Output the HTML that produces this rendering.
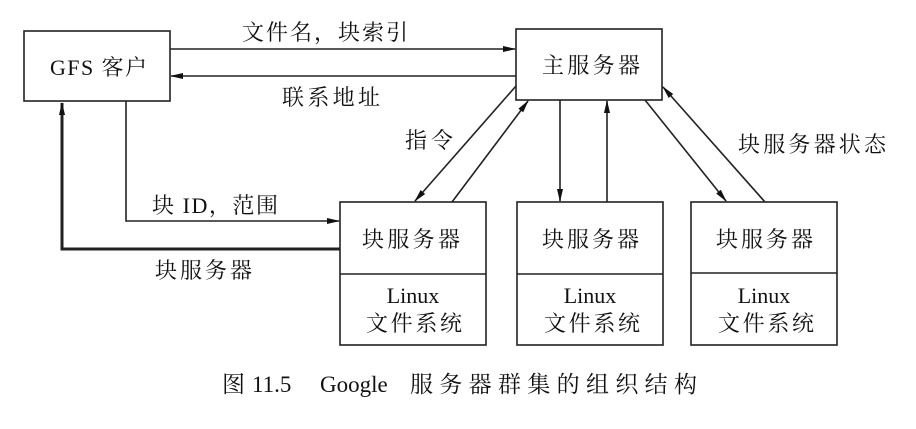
<!DOCTYPE html>
<html><head><meta charset="utf-8"><style>
body{margin:0;background:#fff}
svg text{font-family:"Liberation Serif","Noto Serif CJK SC",serif;fill:#111}
</style></head><body>
<svg width="916" height="424" viewBox="0 0 916 424" xmlns="http://www.w3.org/2000/svg">
<defs><marker id="a" markerWidth="13" markerHeight="8" refX="12" refY="4" orient="auto" markerUnits="userSpaceOnUse"><path d="M0,1 L13,4 L0,7 Z" fill="#111"/></marker></defs>
<g fill="none" stroke="#222" stroke-width="1.6">
<rect x="24" y="31" width="146" height="70"/>
<rect x="516" y="29" width="146" height="71"/>
<rect x="340" y="202" width="146" height="143"/><line x1="340" y1="274" x2="486" y2="274"/>
<rect x="517" y="202" width="146" height="143"/><line x1="517" y1="274" x2="663" y2="274"/>
<rect x="691" y="202" width="146" height="143"/><line x1="691" y1="273" x2="837" y2="273"/>
<line x1="170" y1="49" x2="515" y2="49" marker-end="url(#a)"/>
<line x1="516" y1="76" x2="171" y2="76" marker-end="url(#a)"/>
<line x1="516" y1="86" x2="415" y2="201" marker-end="url(#a)"/>
<line x1="452" y1="202" x2="528" y2="101" marker-end="url(#a)"/>
<line x1="560" y1="100" x2="560" y2="201" marker-end="url(#a)"/>
<line x1="607" y1="202" x2="607" y2="101" marker-end="url(#a)"/>
<line x1="645" y1="100" x2="726" y2="201" marker-end="url(#a)"/>
<line x1="765" y1="202" x2="663" y2="87" marker-end="url(#a)"/>
<polyline points="126,101 126,221 339,221" marker-end="url(#a)"/>
<polyline points="340,249 62,249 62,103" stroke-width="3" marker-end="url(#a)"/>
</g>
<g font-size="22">
<text x="50" y="75" textLength="97" lengthAdjust="spacing">GFS 客户</text>
<text x="542" y="73" textLength="98" lengthAdjust="spacing">主服务器</text>
<text x="242" y="40" textLength="166" lengthAdjust="spacing">文件名，块索引</text>
<text x="282" y="105" textLength="98" lengthAdjust="spacing">联系地址</text>
<text x="405" y="148" textLength="48" lengthAdjust="spacing">指令</text>
<text x="738" y="152" textLength="148" lengthAdjust="spacing">块服务器状态</text>
<text x="152" y="213" textLength="126" lengthAdjust="spacing">块 ID，范围</text>
<text x="155" y="278" textLength="97" lengthAdjust="spacing">块服务器</text>
<text x="362" y="247" textLength="98" lengthAdjust="spacing">块服务器</text>
<text x="542" y="247" textLength="97" lengthAdjust="spacing">块服务器</text>
<text x="716" y="247" textLength="97" lengthAdjust="spacing">块服务器</text>
<text x="413" y="303" text-anchor="middle">Linux</text>
<text x="366" y="331" textLength="96" lengthAdjust="spacing">文件系统</text>
<text x="590" y="303" text-anchor="middle">Linux</text>
<text x="544" y="331" textLength="96" lengthAdjust="spacing">文件系统</text>
<text x="764" y="303" text-anchor="middle">Linux</text>
<text x="718" y="331" textLength="96" lengthAdjust="spacing">文件系统</text>
</g>
<g font-size="23">
<text x="222" y="392">图</text>
<text x="252" y="392">11.5</text>
<text x="320" y="392">Google</text>
<text x="410" y="392" textLength="287" lengthAdjust="spacing">服务器群集的组织结构</text>
</g>
</svg>
</body></html>
